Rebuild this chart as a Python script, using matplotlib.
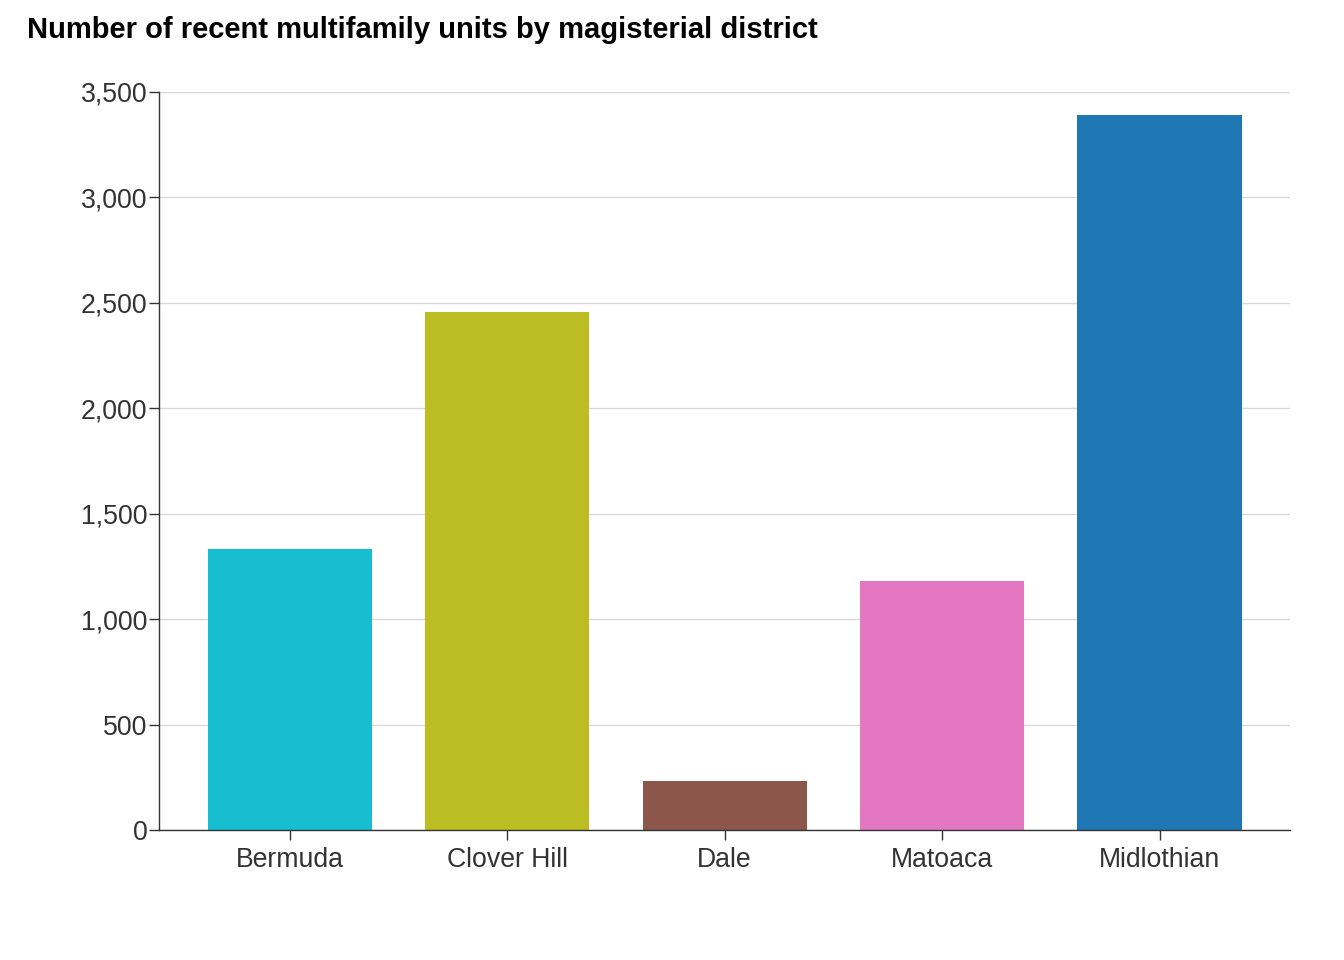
import matplotlib
matplotlib.use("Agg")
import matplotlib.pyplot as plt
from matplotlib.ticker import FuncFormatter

plt.rcParams['font.family'] = ['Liberation Sans', 'DejaVu Sans']

districts = ["Bermuda", "Clover Hill", "Dale", "Matoaca", "Midlothian"]
units = [1334, 2458, 234, 1182, 3392]
bar_colors = ["#17becf", "#bcbd22", "#8c564b", "#e377c2", "#1f77b4"]
y_ticks = [0, 500, 1000, 1500, 2000, 2500, 3000, 3500]

fig = plt.figure(figsize=(13.44, 9.6), dpi=100)
ax = fig.add_axes([0.1185, 0.1354, 0.9598 - 0.1185, 0.9042 - 0.1354])

x = range(len(districts))
ax.bar(x, units, width=0.755, color=bar_colors, zorder=2)

ax.set_xlim(-0.6, len(districts) - 0.4)
ax.set_ylim(0, 3500)
ax.set_yticks(y_ticks)
ax.yaxis.set_major_formatter(FuncFormatter(lambda v, p: f"{int(v):,}"))
ax.set_xticks(list(x))
ax.set_xticklabels(districts)

ax.grid(axis='y', color='#d9d9d9', linewidth=1.0, zorder=0)
ax.set_axisbelow(True)
for s in ['top', 'right']:
    ax.spines[s].set_visible(False)
for s in ['left', 'bottom']:
    ax.spines[s].set_color('#333333')
    ax.spines[s].set_linewidth(1.0)

ax.tick_params(axis='both', colors='#333333', labelsize=19.2, length=7, width=1.0)
ax.tick_params(axis='x', pad=5)
ax.tick_params(axis='y', pad=1.5)

fig.text(27 / 1344, 1 - 30 / 960, "Number of recent multifamily units by magisterial district",
         ha='left', va='center', fontsize=21, fontweight='bold', color='black')

fig.savefig("out.png", dpi=100)
